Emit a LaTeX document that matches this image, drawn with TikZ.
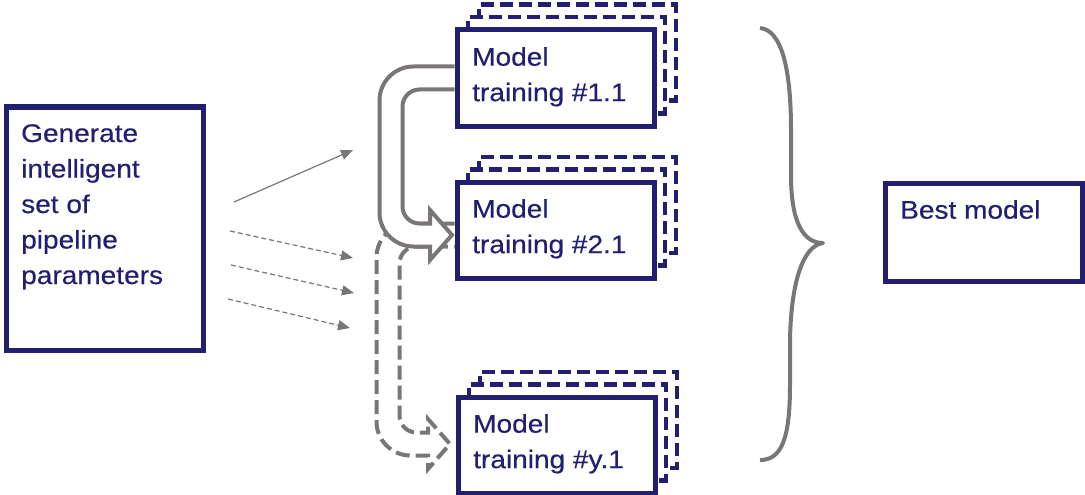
\documentclass[tikz,border=0pt]{standalone}
\usepackage{fontspec}
\newfontfamily\diagfont{Liberation Sans}[FakeStretch=1.1, FakeBold=0.4]
\usepackage{tikz}
\usetikzlibrary{arrows.meta, positioning, calc}
\definecolor{BoxColor}{RGB}{35,31,112}
\definecolor{ArrowGray}{RGB}{122,118,118}
\tikzstyle{frame} = [draw=BoxColor, line width=5pt, fill=white, anchor=north west, minimum width=197pt, inner sep=0pt]
\tikzstyle{backframe} = [draw=BoxColor, line width=4.5pt, dash pattern=on 13pt off 6pt, fill=white, anchor=north west, minimum width=197pt, minimum height=96pt, inner sep=0pt]
\tikzstyle{boxtext} = [text=BoxColor, font=\diagfont\fontsize{25.5}{35.5}\selectfont, align=left, anchor=north west, inner sep=0pt]
\tikzstyle{paramarrow} = [ArrowGray, line width=1.2pt, -{Triangle[length=12pt, width=10pt]}]
\tikzstyle{hollow} = [draw=ArrowGray, line width=4pt, fill=white]
\tikzstyle{curlyline} = [ArrowGray, line width=4pt, line join=round]
% hollow u-turn arrow: style, tail, tip, distance of the bend left of the tail
\newcommand{\uturnarrow}[4]{%
  \path[#1] let \p1=(#2), \p2=(#3) in
    (\x1,\y1+11.5pt) -- (\x1-#4-11.5pt+34pt,\y1+11.5pt) arc[start angle=90, end angle=180, radius=34pt]
    -- (\x1-#4-11.5pt,\y2-11.5pt+34pt) arc[start angle=180, end angle=270, radius=34pt]
    -- (\x2-22pt,\y2-11.5pt) -- (\x2-22pt,\y2-25pt) -- (\x2,\y2) -- (\x2-22pt,\y2+25pt) -- (\x2-22pt,\y2+11.5pt)
    -- (\x1-#4+11.5pt+17pt,\y2+11.5pt) arc[start angle=270, end angle=180, radius=17pt]
    -- (\x1-#4+11.5pt,\y1-11.5pt-17pt) arc[start angle=180, end angle=90, radius=17pt]
    -- (\x1,\y1-11.5pt);}

\begin{document}
\begin{tikzpicture}[x=1pt, y=-1pt]
    \useasboundingbox (0,0) rectangle (1085,495);

    % parameter generation
    \node[frame, minimum height=243pt] (gen) at (3.5,104.5) {};
    \node[boxtext] (gentext) at ([shift={(17.5,19.5)}]gen.north west) {Generate\\intelligent\\set of\\pipeline\\parameters};

    % training runs
    \foreach \name/\x/\y/\txt in {m1/454.5/27.5/1.1, m2/454.5/179.5/2.1, my/455.5/394.5/y.1} {
        \node[backframe] (\name c) at (\x+22,\y-25) {};
        \node[backframe] (\name b) at (\x+11,\y-12.5) {};
        \node[frame, minimum height=96pt] (\name) at (\x,\y) {};
        \node[boxtext] (\name text) at ([shift={(17.5,19.5)}]\name.north west) {Model\\training \#\txt};
    }

    % result
    \node[frame, minimum height=98pt] (best) at (882.5,180.5) {};
    \node[boxtext] (besttext) at ([shift={(17.5,19.5)}]best.north west) {Best model};

    % parameter sets
    \coordinate (p1s) at (234,202);
    \coordinate (p1e) at (353,150);
    \coordinate (p2s) at (230,231);
    \coordinate (p2e) at (353,258);
    \coordinate (p3s) at (231,265);
    \coordinate (p3e) at (354,293);
    \coordinate (p4s) at (228,299);
    \coordinate (p4e) at (350,328);
    \draw[paramarrow] (p1s) -- (p1e);
    \draw[paramarrow, dash pattern=on 5pt off 3pt] (p2s) -- (p2e);
    \draw[paramarrow, dash pattern=on 5pt off 3pt] (p3s) -- (p3e);
    \draw[paramarrow, dash pattern=on 5pt off 3pt] (p4s) -- (p4e);

    % hand-over between runs
    \uturnarrow{hollow, dash pattern=on 14pt off 6pt}{$(m2.west)+(0,5)$}{$(my.west)+(-5.5,-1)$}{66.5pt}
    \uturnarrow{hollow}{m1.west}{$(m2.west)+(-2.5,5)$}{63.5pt}

    % brace
    \draw[curlyline] (760,28) .. controls (782,30) and (791,70) .. (791,130) -- (791,175)
        .. controls (791,222) and (803,243) .. (823,243)
        .. controls (802,246) and (791,285) .. (790,340) -- (790,385)
        .. controls (790,440) and (781,460) .. (760,460);
\end{tikzpicture}
\end{document}
